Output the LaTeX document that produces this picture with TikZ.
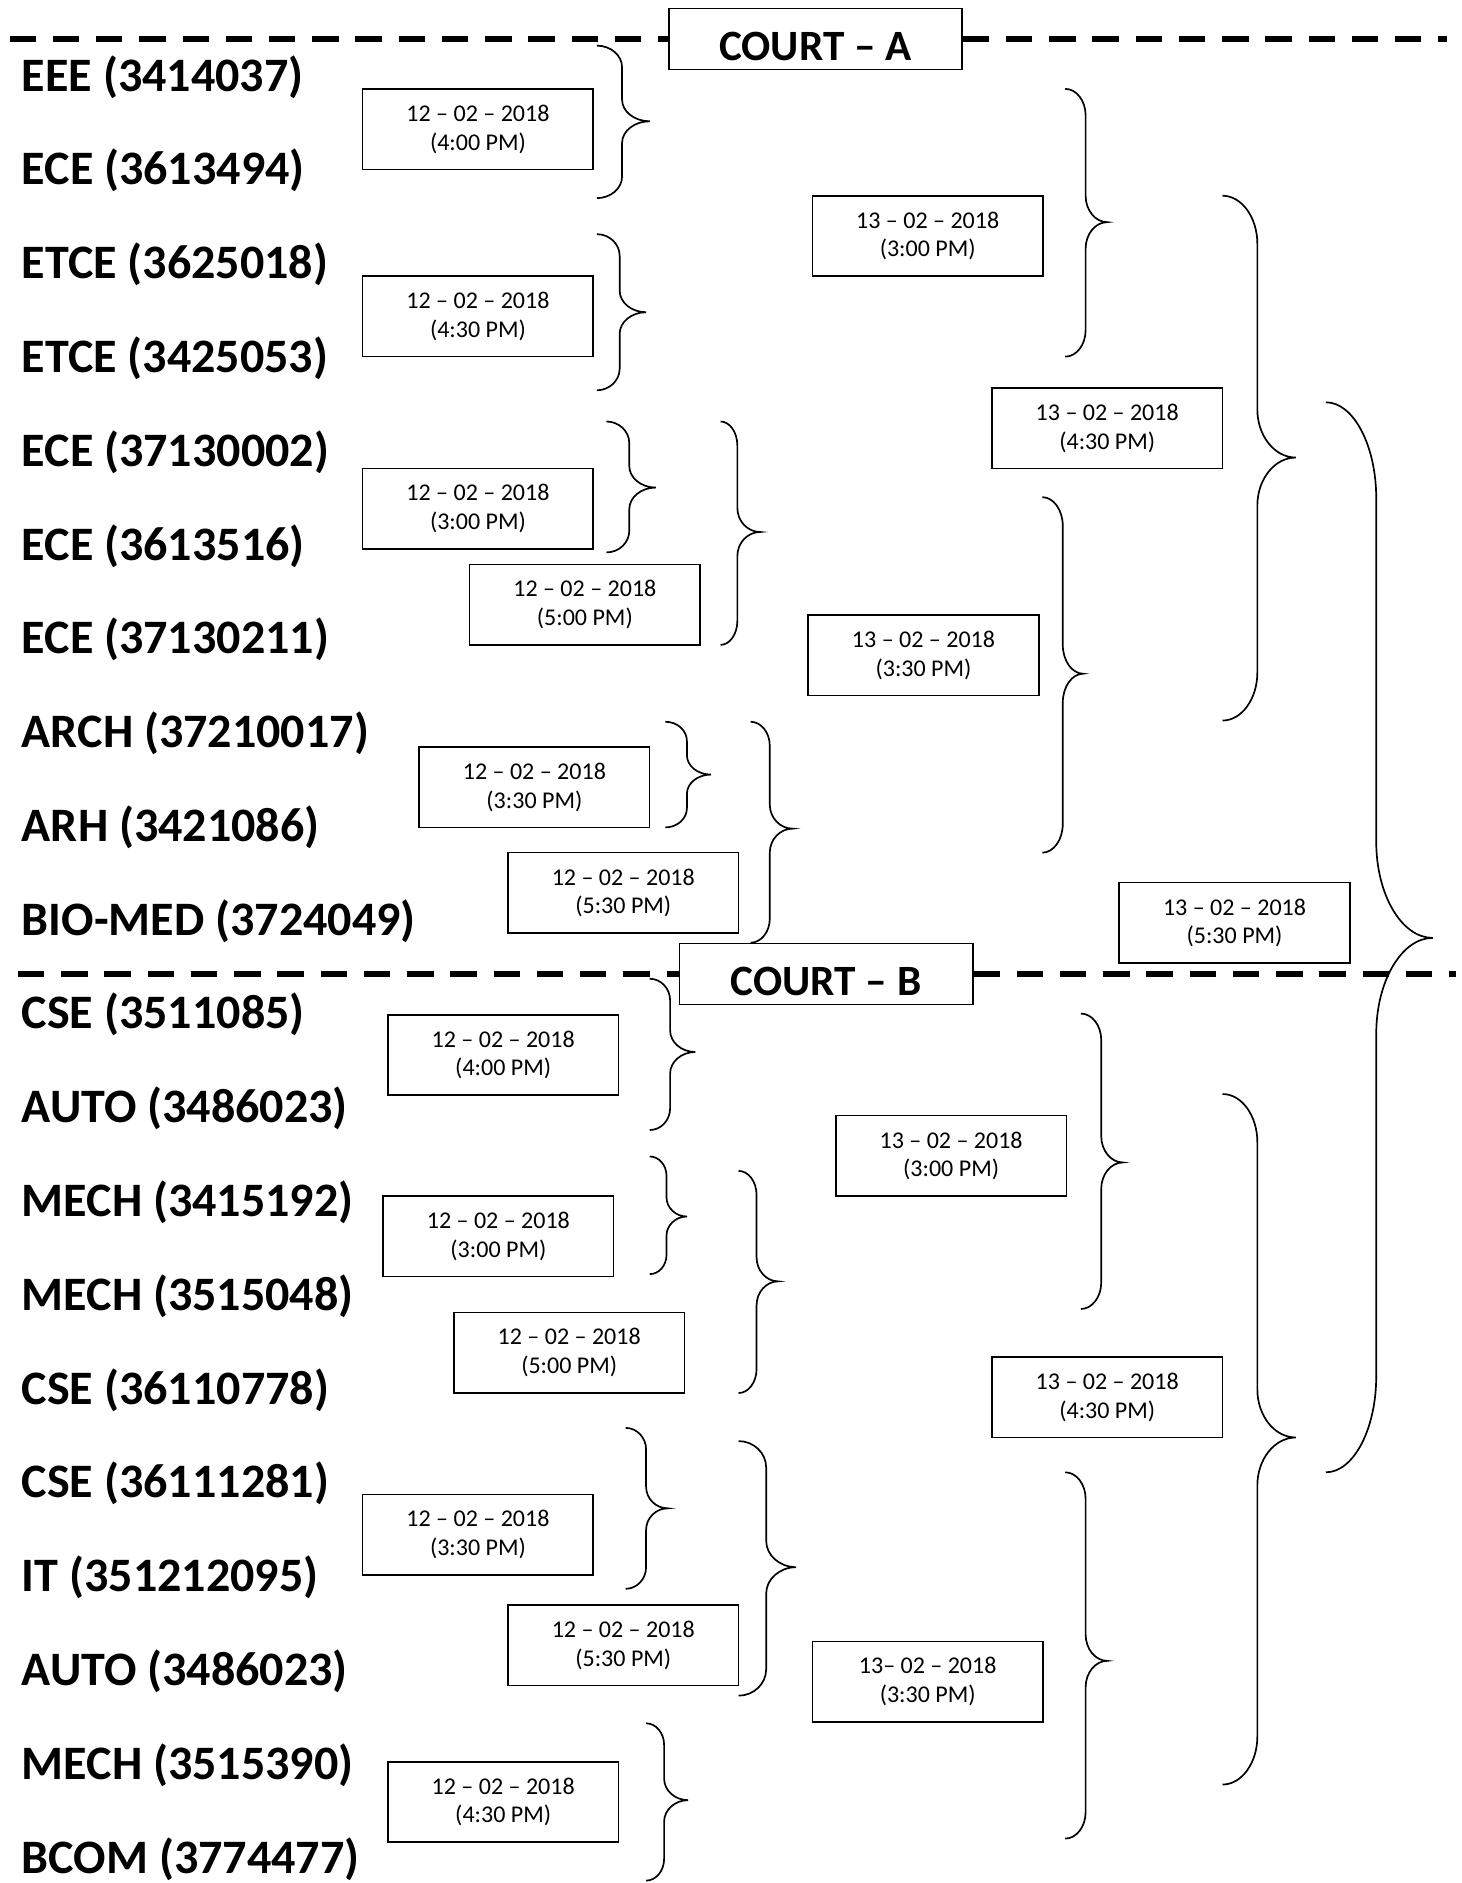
\documentclass[tikz,border=0pt]{standalone}
\usepackage{fontspec}
\setmainfont{Carlito}
\tikzset{
 dept/.style={anchor=west, font=\fontsize{40}{48}\selectfont\bfseries, inner sep=0pt},
 datebox/.style={draw, line width=1.3pt, minimum width=192pt, minimum height=67pt, align=center, font=\fontsize{20}{24}\selectfont, inner sep=0pt},
 courtbox/.style={draw, line width=1.3pt, fill=white, minimum width=244pt, minimum height=51pt, inner sep=0pt, font=\fontsize{36}{40}\selectfont\bfseries},
 divider/.style={line width=5pt, dash pattern=on 22pt off 14pt},
 bracestyle/.style={line width=1.4pt}
}
\newcommand\rbr[7]{%
 \pgfmathsetmacro\bxa{#1+0.55*(#4-#1)}%
 \pgfmathsetmacro\bxb{#5-0.55*(#5-#4)}%
 \draw[bracestyle] (#1,#2) .. controls (\bxa,#2) and (#4,{#2+0.45*#7}) .. (#4,{#2+#7})
  -- (#4,{#6-#7}) .. controls (#4,{#6-0.45*#7}) and (\bxb,#6) .. (#5,#6)
  .. controls (\bxb,#6) and (#4,{#6+0.45*#7}) .. (#4,{#6+#7})
  -- (#4,{#3-#7}) .. controls (#4,{#3-0.45*#7}) and (\bxa,#3) .. (#1,#3);
}
\begin{document}
\begin{tikzpicture}[x=1pt,y=-1pt]
\useasboundingbox (0,0) rectangle (1217,1568);
% department names
\foreach \t [count=\i from 0] in {EEE (3414037),ECE (3613494),ETCE (3625018),ETCE (3425053),ECE (37130002),ECE (3613516),ECE (37130211),ARCH (37210017),ARH (3421086),BIO-MED (3724049),CSE (3511085),AUTO (3486023),MECH (3415192),MECH (3515048),CSE (36110778),CSE (36111281),IT (351212095),AUTO (3486023),MECH (3515390),BCOM (3774477)}
 {\node[dept] (n\i) at (18,{64+78.1*\i}) {\t};}
% court headers and dividers
\node[courtbox] (courtA) at (679,32.5) {\raisebox{-6pt}[\height][\depth]{COURT -- A}};
\node[courtbox] (courtB) at (688,811) {\raisebox{-6pt}[\height][\depth]{COURT -- B}};
\coordinate (dAl) at (8,32.5);
\coordinate (dAr) at (1205,32.5);
\coordinate (dBl) at (15,811);
\coordinate (dBr) at (1212,811);
\draw[divider] (dAl) -- (courtA.west);
\draw[divider] (courtA.east) -- (dAr);
\draw[divider] (dBl) -- (courtB.west);
\draw[divider] (courtB.east) -- (dBr);
% 12-02 boxes court A
\node[datebox] (a1) at (398,107.5) {12 -- 02 -- 2018\\(4:00 PM)};
\node[datebox] (a2) at (398,263.5) {12 -- 02 -- 2018\\(4:30 PM)};
\node[datebox] (a3) at (398,423.5) {12 -- 02 -- 2018\\(3:00 PM)};
\node[datebox] (a4) at (487,503.5) {12 -- 02 -- 2018\\(5:00 PM)};
\node[datebox] (a5) at (445,655.5) {12 -- 02 -- 2018\\(3:30 PM)};
\node[datebox] (a6) at (519,743.5) {12 -- 02 -- 2018\\(5:30 PM)};
% 13-02 boxes court A
\node[datebox] (c1) at (772.5,196.5) {13 -- 02 -- 2018\\(3:00 PM)};
\node[datebox] (c2) at (922,356.5) {13 -- 02 -- 2018\\(4:30 PM)};
\node[datebox] (c3) at (769,545.5) {13 -- 02 -- 2018\\(3:30 PM)};
\node[datebox] (c4) at (1028,768.5) {13 -- 02 -- 2018\\(5:30 PM)};
% 12-02 boxes court B
\node[datebox] (b1) at (419,878.5) {12 -- 02 -- 2018\\(4:00 PM)};
\node[datebox] (b2) at (415,1029.5) {12 -- 02 -- 2018\\(3:00 PM)};
\node[datebox] (b3) at (474,1126.5) {12 -- 02 -- 2018\\(5:00 PM)};
\node[datebox] (b4) at (398,1278) {12 -- 02 -- 2018\\(3:30 PM)};
\node[datebox] (b5) at (519,1370) {12 -- 02 -- 2018\\(5:30 PM)};
\node[datebox] (b6) at (419,1500.5) {12 -- 02 -- 2018\\(4:30 PM)};
% 13-02 boxes court B
\node[datebox] (e1) at (792,962.5) {13 -- 02 -- 2018\\(3:00 PM)};
\node[datebox] (e2) at (922,1163.5) {13 -- 02 -- 2018\\(4:30 PM)};
\node[datebox] (e3) at (772.5,1400.5) {13-- 02 -- 2018\\(3:30 PM)};
% braces court A
\rbr{497}{38}{165}{518}{541}{101}{18}
\rbr{497}{195}{325}{516}{538}{260}{18}
\rbr{505}{351}{460}{524}{546}{406}{18}
\rbr{600}{351}{537}{614}{633}{443}{20}
\rbr{554}{601}{689}{572}{592}{645}{16}
\rbr{625}{601}{785}{641}{660}{690}{20}
\rbr{887}{74}{297}{904}{922}{185}{22}
\rbr{868}{414}{710}{885}{902}{561}{24}
\rbr{1018}{163}{600}{1047}{1079}{381}{40}
\rbr{1104}{335}{1226}{1146}{1193}{781}{80}
% braces court B
\rbr{541}{815}{941}{558}{579}{876}{18}
\rbr{541}{963}{1061}{555}{572}{1013}{16}
\rbr{615}{975}{1160}{630}{648}{1067}{20}
\rbr{521}{1189}{1323}{538}{556}{1256}{18}
\rbr{615}{1200}{1412}{638}{663}{1305}{22}
\rbr{538}{1435}{1566}{553}{573}{1499}{18}
\rbr{900}{844}{1090}{917}{935}{968}{22}
\rbr{1018}{911}{1486}{1047}{1079}{1197}{40}
\rbr{887}{1226}{1531}{904}{922}{1383}{22}
\end{tikzpicture}
\end{document}
